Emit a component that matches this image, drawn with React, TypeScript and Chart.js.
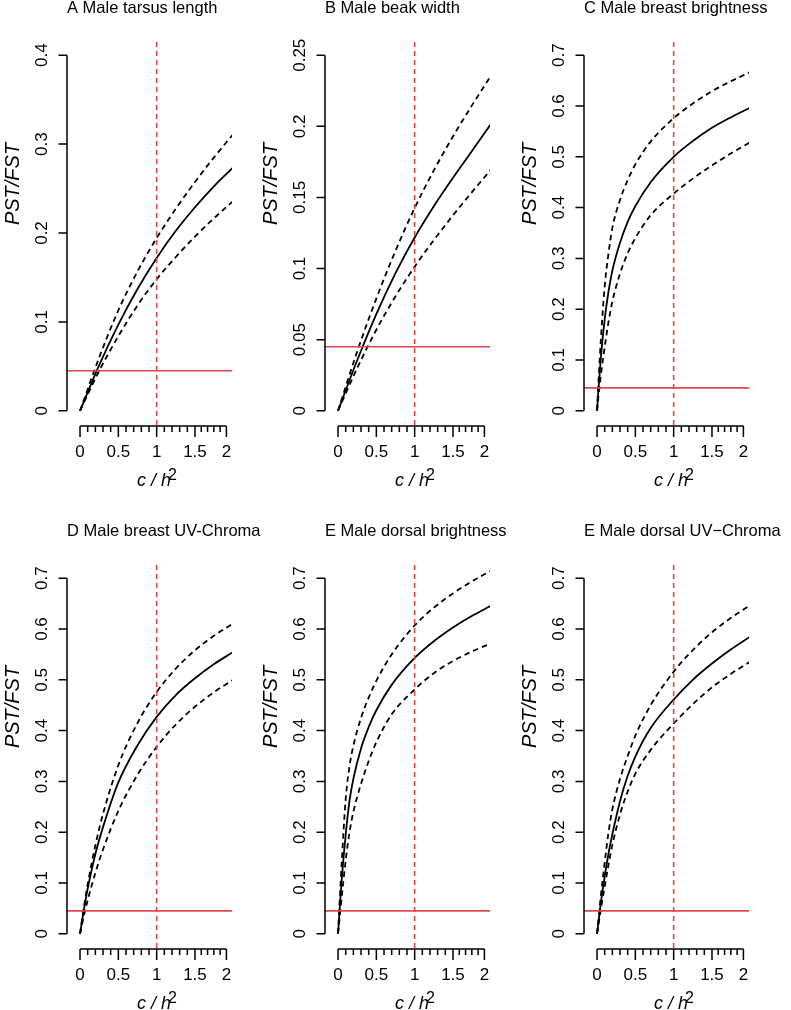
import React, { useEffect, useRef } from 'react';
import { Chart, registerables } from 'chart.js';

Chart.register(...registerables);

// ---------------- data ----------------
const FST = 0.045;
const REF_C_H2 = 1;

const xTickValues = [0, 0.5, 1, 1.5, 1.91];
const xTickLabels = ['0', '0.5', '1', '1.5', '2'];

const titles = [
  'A Male tarsus length',
  'B Male beak width',
  'C Male breast brightness',
  'D Male breast UV-Chroma',
  'E Male dorsal brightness',
  'E Male dorsal UV\u2212Chroma',
];

const yTicks04 = [0, 0.1, 0.2, 0.3, 0.4];
const yLabels04 = ['0', '0.1', '0.2', '0.3', '0.4'];
const yTicks025 = [0, 0.05, 0.1, 0.15, 0.2, 0.25];
const yLabels025 = ['0', '0.05', '0.1', '0.15', '0.2', '0.25'];
const yTicks07 = [0, 0.1, 0.2, 0.3, 0.4, 0.5, 0.6, 0.7];
const yLabels07 = ['0', '0.1', '0.2', '0.3', '0.4', '0.5', '0.6', '0.7'];

// c/h2 values at which the curves were read
const quarterX = [0, 0.25, 0.5, 0.75, 1, 1.25, 1.5, 1.75, 2];
const fineX = [0, 0.02, 0.05, 0.1, 0.15, 0.2, 0.3, 0.4, 0.5, 0.7, 1, 1.25, 1.5, 1.75, 2];
const breastUvX = [0, 0.05, 0.1, 0.2, 0.3, 0.5, 0.75, 1, 1.25, 1.5, 1.75, 2];

// A tarsus (on quarterX)
const tarsusMean = [0, 0.0513, 0.097, 0.137, 0.172, 0.2025, 0.229, 0.2528, 0.274];
const tarsusUpper = [0, 0.06, 0.113, 0.1568, 0.1943, 0.2273, 0.2573, 0.2853, 0.3113];
const tarsusLower = [0, 0.045, 0.084, 0.1185, 0.148, 0.173, 0.196, 0.2168, 0.236];

// B beak (on quarterX)
const beakMean = [0, 0.0355, 0.068, 0.0968, 0.1218, 0.1438, 0.1638, 0.1828, 0.202];
const beakUpper = [0, 0.0417, 0.0789, 0.1125, 0.1426, 0.169, 0.1929, 0.2149, 0.236];
const beakLower = [0, 0.03, 0.057, 0.0805, 0.1013, 0.12, 0.1374, 0.1539, 0.1699];

// C breast brightness (on fineX)
const breastBrMean = [0, 0.045, 0.105, 0.18, 0.235, 0.276, 0.331, 0.372, 0.403, 0.45, 0.5, 0.531, 0.557, 0.578, 0.597];
const breastBrUpper = [0, 0.06, 0.14, 0.245, 0.31, 0.36, 0.415, 0.454, 0.485, 0.53, 0.576, 0.605, 0.629, 0.649, 0.667];
const breastBrLower = [0, 0.03, 0.07, 0.125, 0.175, 0.215, 0.27, 0.31, 0.34, 0.385, 0.4275, 0.457, 0.483, 0.507, 0.529];

// D breast UV-chroma (on breastUvX)
const breastUvMean = [0, 0.047, 0.089, 0.157, 0.21, 0.298, 0.371, 0.427, 0.47, 0.503, 0.531, 0.555];
const breastUvUpper = [0, 0.052, 0.097, 0.174, 0.236, 0.332, 0.415, 0.476, 0.522, 0.558, 0.587, 0.611];
const breastUvLower = [0, 0.035, 0.066, 0.12, 0.166, 0.242, 0.313, 0.368, 0.412, 0.447, 0.476, 0.5];

// E dorsal brightness (on fineX)
const dorsalBrMean = [0, 0.045, 0.11, 0.195, 0.262, 0.305, 0.365, 0.407, 0.44, 0.49, 0.543, 0.576, 0.603, 0.626, 0.646];
const dorsalBrUpper = [0, 0.06, 0.145, 0.265, 0.33, 0.37, 0.425, 0.465, 0.498, 0.55, 0.607, 0.642, 0.67, 0.694, 0.715];
const dorsalBrLower = [0, 0.03, 0.075, 0.145, 0.2, 0.24, 0.295, 0.34, 0.377, 0.432, 0.481, 0.513, 0.537, 0.556, 0.572];

// F dorsal UV-chroma (on fineX)
const dorsalUvMean = [0, 0.024, 0.061, 0.113, 0.158, 0.196, 0.261, 0.311, 0.349, 0.405, 0.461, 0.5, 0.532, 0.56, 0.585];
const dorsalUvUpper = [0, 0.03, 0.075, 0.14, 0.2, 0.245, 0.305, 0.35, 0.39, 0.45, 0.516, 0.5585, 0.5935, 0.622, 0.647];
const dorsalUvLower = [0, 0.019, 0.048, 0.093, 0.136, 0.175, 0.235, 0.28, 0.315, 0.362, 0.414, 0.452, 0.485, 0.512, 0.536];

// ---------------- layout / style ----------------
const FONT = '"Liberation Sans", Arial, Helvetica, sans-serif';
const RED = '#e2474b';
const X_MIN = -0.17;
const X_MAX = 1.983;
const CW = 274;

type PanelDef = {
  title: string;
  yTicks: number[];
  yLabels: string[];
  x: number[];
  mean: number[];
  up: number[];
  lo: number[];
  left: number;
  top: number;
  h: number;
};

const panels: PanelDef[] = [
  { title: titles[0], yTicks: yTicks04, yLabels: yLabels04, x: quarterX, mean: tarsusMean, up: tarsusUpper, lo: tarsusLower, left: 0, top: 0, h: 523 },
  { title: titles[1], yTicks: yTicks025, yLabels: yLabels025, x: quarterX, mean: beakMean, up: beakUpper, lo: beakLower, left: 258, top: 0, h: 523 },
  { title: titles[2], yTicks: yTicks07, yLabels: yLabels07, x: fineX, mean: breastBrMean, up: breastBrUpper, lo: breastBrLower, left: 517, top: 0, h: 523 },
  { title: titles[3], yTicks: yTicks07, yLabels: yLabels07, x: breastUvX, mean: breastUvMean, up: breastUvUpper, lo: breastUvLower, left: 0, top: 523, h: 487 },
  { title: titles[4], yTicks: yTicks07, yLabels: yLabels07, x: fineX, mean: dorsalBrMean, up: dorsalBrUpper, lo: dorsalBrLower, left: 258, top: 523, h: 487 },
  { title: titles[5], yTicks: yTicks07, yLabels: yLabels07, x: fineX, mean: dorsalUvMean, up: dorsalUvUpper, lo: dorsalUvLower, left: 517, top: 523, h: 487 },
];

const pts = (xs: number[], ys: number[]) => xs.map((x, i) => ({ x, y: ys[i] }));

function makeAxesPlugin(p: PanelDef) {
  return {
    id: 'rAxes',
    afterDraw(chart: any) {
      const ctx: CanvasRenderingContext2D = chart.ctx;
      const xs = chart.scales.x;
      const ys = chart.scales.y;
      const area = chart.chartArea;
      ctx.save();
      ctx.strokeStyle = '#000';
      ctx.fillStyle = '#000';
      ctx.lineWidth = 1.5;
      ctx.setLineDash([]);

      // title
      ctx.font = `16.5px ${FONT}`;
      ctx.textAlign = 'left';
      ctx.textBaseline = 'alphabetic';
      ctx.fillText(p.title, area.left, 13);

      // y axis
      const ax = area.left;
      const y0 = ys.getPixelForValue(p.yTicks[0]);
      const y1 = ys.getPixelForValue(p.yTicks[p.yTicks.length - 1]);
      ctx.beginPath();
      ctx.moveTo(ax, y0);
      ctx.lineTo(ax, y1);
      p.yTicks.forEach((t) => {
        const py = ys.getPixelForValue(t);
        ctx.moveTo(ax - 8.5, py);
        ctx.lineTo(ax, py);
      });
      ctx.stroke();
      ctx.font = `17px ${FONT}`;
      ctx.textAlign = 'center';
      p.yTicks.forEach((t, i) => {
        const py = ys.getPixelForValue(t);
        ctx.save();
        ctx.translate(47, py);
        ctx.rotate(-Math.PI / 2);
        ctx.fillText(p.yLabels[i], 0, 0);
        ctx.restore();
      });

      // y title
      ctx.save();
      ctx.font = `italic 20px ${FONT}`;
      ctx.translate(19, 184);
      ctx.rotate(-Math.PI / 2);
      ctx.textAlign = 'center';
      ctx.fillText('PST/FST', 0, 0);
      ctx.restore();

      // x axis
      const by = area.bottom + 1;
      const xa = xs.getPixelForValue(xTickValues[0]);
      const xb = xs.getPixelForValue(xTickValues[xTickValues.length - 1]);
      ctx.beginPath();
      ctx.moveTo(xa, by);
      ctx.lineTo(xb, by);
      for (let i = 0; i < xTickValues.length; i++) {
        const px = xs.getPixelForValue(xTickValues[i]);
        ctx.moveTo(px, by);
        ctx.lineTo(px, by + 11);
        if (i < xTickValues.length - 1) {
          const nx = xs.getPixelForValue(xTickValues[i + 1]);
          for (let k = 1; k < 5; k++) {
            const mx = px + ((nx - px) * k) / 5;
            ctx.moveTo(mx, by);
            ctx.lineTo(mx, by + 6);
          }
        }
      }
      ctx.stroke();
      ctx.font = `17px ${FONT}`;
      ctx.textAlign = 'center';
      xTickValues.forEach((v, i) => {
        ctx.fillText(xTickLabels[i], xs.getPixelForValue(v), 456.5);
      });

      // x title c / h^2
      ctx.font = `italic 18px ${FONT}`;
      ctx.textAlign = 'left';
      const base = 'c / h';
      const w = ctx.measureText(base).width;
      const sx = 137;
      ctx.fillText(base, sx, 486);
      ctx.font = `16px ${FONT}`;
      ctx.fillText('2', sx + w - 3, 480);

      ctx.restore();
    },
  };
}

function Panel({ p }: { p: PanelDef }) {
  const ref = useRef<HTMLCanvasElement | null>(null);
  useEffect(() => {
    if (!ref.current) return;
    const topTick = p.yTicks[p.yTicks.length - 1];
    const yMin = -0.04 * topTick;
    const yMax = 1.04 * topTick;
    const curve = (data: any, dashed: boolean) => ({
      data,
      showLine: true,
      borderColor: '#000',
      borderWidth: 1.8,
      borderDash: dashed ? [5.5, 4] : [],
      pointRadius: 0,
      cubicInterpolationMode: 'monotone',
      fill: false,
    });
    const chart = new Chart(ref.current, {
      type: 'scatter',
      data: {
        datasets: [
          {
            data: [{ x: X_MIN, y: FST }, { x: X_MAX, y: FST }],
            showLine: true,
            borderColor: RED,
            borderWidth: 1.6,
            pointRadius: 0,
            tension: 0,
          },
          {
            data: [{ x: REF_C_H2, y: yMin }, { x: REF_C_H2, y: yMax }],
            showLine: true,
            borderColor: RED,
            borderWidth: 1.6,
            borderDash: [5, 4],
            pointRadius: 0,
            tension: 0,
          },
          curve(pts(p.x, p.mean), false),
          curve(pts(p.x, p.up), true),
          curve(pts(p.x, p.lo), true),
        ] as any,
      },
      options: {
        responsive: false,
        animation: false,
        devicePixelRatio: 1,
        layout: { padding: { left: 67, right: CW - 232, top: 41, bottom: p.h - 425 } },
        plugins: { legend: { display: false }, tooltip: { enabled: false }, title: { display: false } },
        scales: {
          x: { type: 'linear', min: X_MIN, max: X_MAX, display: false },
          y: { type: 'linear', min: yMin, max: yMax, display: false },
        },
      } as any,
      plugins: [makeAxesPlugin(p) as any],
    });
    return () => chart.destroy();
  }, [p]);
  return (
    <canvas
      ref={ref}
      width={CW}
      height={p.h}
      style={{ position: 'absolute', left: p.left, top: p.top, width: CW, height: p.h }}
    />
  );
}

export default function App() {
  return (
    <div style={{ position: 'absolute', left: 0, top: 0, width: 791, height: 1010, background: '#fff', overflow: 'hidden' }}>
      {panels.map((p, i) => (
        <Panel key={i} p={p} />
      ))}
    </div>
  );
}
